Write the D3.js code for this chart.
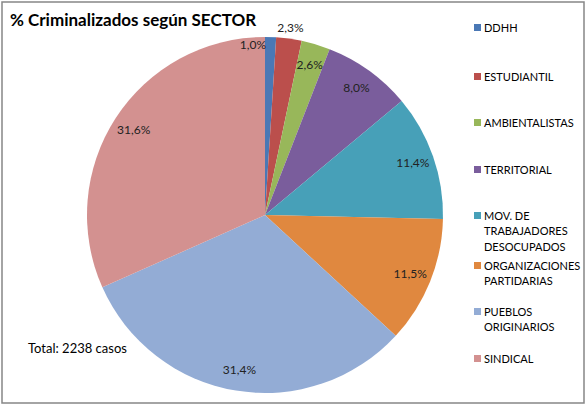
<!DOCTYPE html>
<html><head><meta charset="utf-8">
<script src="https://cdn.jsdelivr.net/npm/d3@7"></script>
<style>body{margin:0;background:#fff}svg{display:block}</style>
</head><body>
<script>
const categories = ["DDHH","ESTUDIANTIL","AMBIENTALISTAS","TERRITORIAL","MOV. DE TRABAJADORES DESOCUPADOS","ORGANIZACIONES PARTIDARIAS","PUEBLOS ORIGINARIOS","SINDICAL"];
const legendLines = [["DDHH"],["ESTUDIANTIL"],["AMBIENTALISTAS"],["TERRITORIAL"],["MOV. DE","TRABAJADORES","DESOCUPADOS"],["ORGANIZACIONES","PARTIDARIAS"],["PUEBLOS","ORIGINARIOS"],["SINDICAL"]];
const values = [1.0, 2.3, 2.6, 8.0, 11.4, 11.5, 31.4, 31.6];
const labels = ["1,0%","2,3%","2,6%","8,0%","11,4%","11,5%","31,4%","31,6%"];
const colors = ["#4a78b5","#bb4f4c","#98b75a","#7a5d9c","#47a0b8","#e0883f","#93acd5","#d39190"];
const labelMode = ["edge","outside","inside","inside","inside","inside","inside","inside"];
const title = "% Criminalizados según SECTOR";
const note = "Total: 2238 casos";

const W = 586, H = 405;
const svg = d3.select("body").append("svg").attr("width", W).attr("height", H);
svg.append("rect").attr("x",2).attr("y",2).attr("width",582).attr("height",401)
  .attr("fill","#fff").attr("stroke","#868686").attr("stroke-width",1.5);

const font = "Lato, 'Open Sans', sans-serif";
svg.append("text").attr("x",10).attr("y",26).text(title)
  .attr("font-family",font).attr("font-weight","bold").attr("font-size",17).attr("fill","#000");

const cx = 265, cy = 215, r = 178;
const pie = d3.pie().sort(null).value(d => d)(values);
const arc = d3.arc().innerRadius(0).outerRadius(r);
const g = svg.append("g").attr("transform",`translate(${cx},${cy})`);
g.selectAll("path").data(pie).join("path").attr("d",arc).attr("fill",(d,i)=>colors[i]);

g.selectAll("text.lbl").data(pie).join("text").attr("class","lbl")
  .each(function(d,i){
    const mid = (d.startAngle+d.endAngle)/2;
    let rr, ang = mid, anchor = "middle";
    if (labelMode[i]==="outside") rr = r*1.06;
    else if (labelMode[i]==="edge") { rr = r*0.955; ang = d.startAngle; anchor = "end"; }
    else rr = r*0.88;
    d3.select(this).attr("x", rr*Math.sin(ang) + (anchor==="end"?1:0))
      .attr("y", -rr*Math.cos(ang)).attr("dy","0.35em").attr("text-anchor",anchor);
  })
  .text((d,i)=>labels[i])
  .attr("font-family",font).attr("font-size",12).attr("fill","#222");

svg.append("text").attr("x",28).attr("y",353).text(note)
  .attr("font-family",font).attr("font-size",13).attr("fill","#000");

const legStarts = [28,77,123,170,216,266,312,359];
const lg = svg.append("g");
legendLines.forEach((lines,i)=>{
  const y0 = legStarts[i];
  lg.append("rect").attr("x",474).attr("y",y0-4).attr("width",7).attr("height",7).attr("fill",colors[i]);
  const t = lg.append("text").attr("font-family",font).attr("font-size",11).attr("fill","#000");
  lines.forEach((ln,j)=>{
    t.append("tspan").attr("x",484).attr("y",y0+j*15.5).attr("dy","0.35em").text(ln);
  });
});
</script>
</body></html>
